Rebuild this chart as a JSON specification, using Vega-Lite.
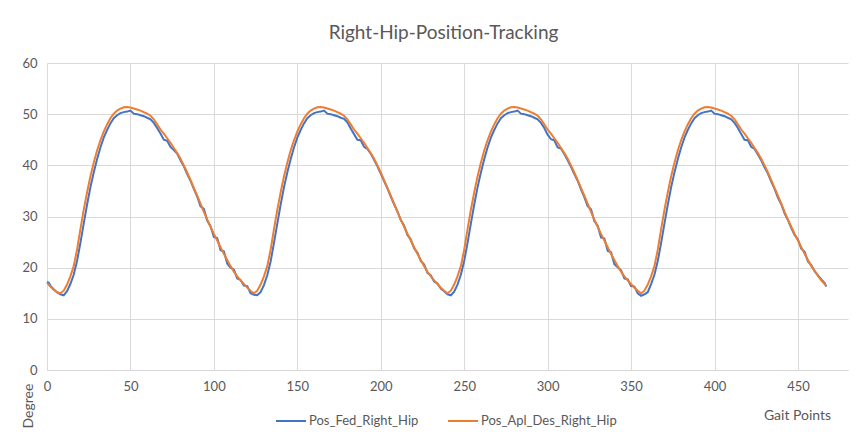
{
"$schema": "https://vega.github.io/schema/vega-lite/v6.json",
"width": 801, "height": 307,
"autosize": {"type": "none"},
"padding": {"left": 47, "top": 63, "right": 17, "bottom": 69},
"background": "white",
"title": {"text": "Right-Hip-Position-Tracking", "fontSize": 19, "font": "Lato", "fontWeight": "normal", "color": "#595959", "anchor": "middle", "frame": "group", "baseline": "alphabetic", "offset": 27, "dx": -4, "dy": 28},
"data": {"values": [
{"x":0,"Pos_Fed_Right_Hip":17.2,"Pos_Apl_Des_Right_Hip":17.0},
{"x":1,"Pos_Fed_Right_Hip":17.1,"Pos_Apl_Des_Right_Hip":16.7},
{"x":2,"Pos_Fed_Right_Hip":16.5,"Pos_Apl_Des_Right_Hip":16.3},
{"x":4,"Pos_Fed_Right_Hip":15.8,"Pos_Apl_Des_Right_Hip":15.7},
{"x":6,"Pos_Fed_Right_Hip":15.2,"Pos_Apl_Des_Right_Hip":15.2},
{"x":8,"Pos_Fed_Right_Hip":14.8,"Pos_Apl_Des_Right_Hip":15.0},
{"x":10,"Pos_Fed_Right_Hip":14.6,"Pos_Apl_Des_Right_Hip":15.5},
{"x":12,"Pos_Fed_Right_Hip":15.4,"Pos_Apl_Des_Right_Hip":16.7},
{"x":14,"Pos_Fed_Right_Hip":16.8,"Pos_Apl_Des_Right_Hip":18.3},
{"x":16,"Pos_Fed_Right_Hip":18.6,"Pos_Apl_Des_Right_Hip":20.3},
{"x":18,"Pos_Fed_Right_Hip":21.3,"Pos_Apl_Des_Right_Hip":23.5},
{"x":20,"Pos_Fed_Right_Hip":24.8,"Pos_Apl_Des_Right_Hip":27.5},
{"x":22,"Pos_Fed_Right_Hip":28.6,"Pos_Apl_Des_Right_Hip":31.3},
{"x":24,"Pos_Fed_Right_Hip":32.3,"Pos_Apl_Des_Right_Hip":34.7},
{"x":26,"Pos_Fed_Right_Hip":35.7,"Pos_Apl_Des_Right_Hip":37.8},
{"x":28,"Pos_Fed_Right_Hip":38.6,"Pos_Apl_Des_Right_Hip":40.5},
{"x":30,"Pos_Fed_Right_Hip":41.2,"Pos_Apl_Des_Right_Hip":42.9},
{"x":32,"Pos_Fed_Right_Hip":43.5,"Pos_Apl_Des_Right_Hip":44.9},
{"x":34,"Pos_Fed_Right_Hip":45.4,"Pos_Apl_Des_Right_Hip":46.6},
{"x":36,"Pos_Fed_Right_Hip":46.9,"Pos_Apl_Des_Right_Hip":48.0},
{"x":38,"Pos_Fed_Right_Hip":48.2,"Pos_Apl_Des_Right_Hip":49.2},
{"x":40,"Pos_Fed_Right_Hip":49.2,"Pos_Apl_Des_Right_Hip":50.1},
{"x":42,"Pos_Fed_Right_Hip":49.8,"Pos_Apl_Des_Right_Hip":50.7},
{"x":44,"Pos_Fed_Right_Hip":50.2,"Pos_Apl_Des_Right_Hip":51.1},
{"x":46,"Pos_Fed_Right_Hip":50.4,"Pos_Apl_Des_Right_Hip":51.35},
{"x":48,"Pos_Fed_Right_Hip":50.5,"Pos_Apl_Des_Right_Hip":51.4},
{"x":50,"Pos_Fed_Right_Hip":50.7,"Pos_Apl_Des_Right_Hip":51.3},
{"x":52,"Pos_Fed_Right_Hip":50.1,"Pos_Apl_Des_Right_Hip":51.1},
{"x":54,"Pos_Fed_Right_Hip":50.0,"Pos_Apl_Des_Right_Hip":50.9},
{"x":56,"Pos_Fed_Right_Hip":49.8,"Pos_Apl_Des_Right_Hip":50.7},
{"x":58,"Pos_Fed_Right_Hip":49.6,"Pos_Apl_Des_Right_Hip":50.4},
{"x":60,"Pos_Fed_Right_Hip":49.3,"Pos_Apl_Des_Right_Hip":50.1},
{"x":62,"Pos_Fed_Right_Hip":49.0,"Pos_Apl_Des_Right_Hip":49.7},
{"x":64,"Pos_Fed_Right_Hip":48.3,"Pos_Apl_Des_Right_Hip":49.0},
{"x":66,"Pos_Fed_Right_Hip":47.3,"Pos_Apl_Des_Right_Hip":48.0},
{"x":68,"Pos_Fed_Right_Hip":46.2,"Pos_Apl_Des_Right_Hip":47.0},
{"x":70,"Pos_Fed_Right_Hip":45.0,"Pos_Apl_Des_Right_Hip":46.2},
{"x":72,"Pos_Fed_Right_Hip":44.8,"Pos_Apl_Des_Right_Hip":45.3},
{"x":74,"Pos_Fed_Right_Hip":43.6,"Pos_Apl_Des_Right_Hip":44.4},
{"x":76,"Pos_Fed_Right_Hip":43.0,"Pos_Apl_Des_Right_Hip":43.4},
{"x":78,"Pos_Fed_Right_Hip":42.3,"Pos_Apl_Des_Right_Hip":42.4},
{"x":80,"Pos_Fed_Right_Hip":41.0,"Pos_Apl_Des_Right_Hip":41.3},
{"x":82,"Pos_Fed_Right_Hip":39.8,"Pos_Apl_Des_Right_Hip":40.0},
{"x":84,"Pos_Fed_Right_Hip":38.3,"Pos_Apl_Des_Right_Hip":38.6},
{"x":86,"Pos_Fed_Right_Hip":37.0,"Pos_Apl_Des_Right_Hip":37.1},
{"x":88,"Pos_Fed_Right_Hip":35.4,"Pos_Apl_Des_Right_Hip":35.6},
{"x":90,"Pos_Fed_Right_Hip":33.9,"Pos_Apl_Des_Right_Hip":34.1},
{"x":92,"Pos_Fed_Right_Hip":32.0,"Pos_Apl_Des_Right_Hip":32.5},
{"x":94,"Pos_Fed_Right_Hip":31.5,"Pos_Apl_Des_Right_Hip":30.9},
{"x":96,"Pos_Fed_Right_Hip":29.2,"Pos_Apl_Des_Right_Hip":29.4},
{"x":98,"Pos_Fed_Right_Hip":28.1,"Pos_Apl_Des_Right_Hip":28.0},
{"x":100,"Pos_Fed_Right_Hip":26.0,"Pos_Apl_Des_Right_Hip":26.6},
{"x":102,"Pos_Fed_Right_Hip":25.8,"Pos_Apl_Des_Right_Hip":25.3},
{"x":104,"Pos_Fed_Right_Hip":23.4,"Pos_Apl_Des_Right_Hip":24.0},
{"x":106,"Pos_Fed_Right_Hip":23.2,"Pos_Apl_Des_Right_Hip":22.7},
{"x":108,"Pos_Fed_Right_Hip":20.8,"Pos_Apl_Des_Right_Hip":21.5},
{"x":110,"Pos_Fed_Right_Hip":20.0,"Pos_Apl_Des_Right_Hip":20.3},
{"x":112,"Pos_Fed_Right_Hip":19.6,"Pos_Apl_Des_Right_Hip":19.2},
{"x":114,"Pos_Fed_Right_Hip":17.9,"Pos_Apl_Des_Right_Hip":18.3},
{"x":116,"Pos_Fed_Right_Hip":17.6,"Pos_Apl_Des_Right_Hip":17.5},
{"x":118,"Pos_Fed_Right_Hip":16.5,"Pos_Apl_Des_Right_Hip":16.8},
{"x":120,"Pos_Fed_Right_Hip":16.4,"Pos_Apl_Des_Right_Hip":16.1},
{"x":122,"Pos_Fed_Right_Hip":15.0,"Pos_Apl_Des_Right_Hip":15.5},
{"x":124,"Pos_Fed_Right_Hip":14.7,"Pos_Apl_Des_Right_Hip":15.0},
{"x":126,"Pos_Fed_Right_Hip":14.6,"Pos_Apl_Des_Right_Hip":15.5},
{"x":128,"Pos_Fed_Right_Hip":15.2,"Pos_Apl_Des_Right_Hip":16.7},
{"x":130,"Pos_Fed_Right_Hip":16.6,"Pos_Apl_Des_Right_Hip":18.3},
{"x":132,"Pos_Fed_Right_Hip":18.5,"Pos_Apl_Des_Right_Hip":20.3},
{"x":134,"Pos_Fed_Right_Hip":21.2,"Pos_Apl_Des_Right_Hip":23.5},
{"x":136,"Pos_Fed_Right_Hip":24.8,"Pos_Apl_Des_Right_Hip":27.5},
{"x":138,"Pos_Fed_Right_Hip":28.6,"Pos_Apl_Des_Right_Hip":31.3},
{"x":140,"Pos_Fed_Right_Hip":32.3,"Pos_Apl_Des_Right_Hip":34.7},
{"x":142,"Pos_Fed_Right_Hip":35.7,"Pos_Apl_Des_Right_Hip":37.8},
{"x":144,"Pos_Fed_Right_Hip":38.6,"Pos_Apl_Des_Right_Hip":40.5},
{"x":146,"Pos_Fed_Right_Hip":41.2,"Pos_Apl_Des_Right_Hip":42.9},
{"x":148,"Pos_Fed_Right_Hip":43.5,"Pos_Apl_Des_Right_Hip":44.9},
{"x":150,"Pos_Fed_Right_Hip":45.4,"Pos_Apl_Des_Right_Hip":46.6},
{"x":152,"Pos_Fed_Right_Hip":46.9,"Pos_Apl_Des_Right_Hip":48.0},
{"x":154,"Pos_Fed_Right_Hip":48.2,"Pos_Apl_Des_Right_Hip":49.2},
{"x":156,"Pos_Fed_Right_Hip":49.2,"Pos_Apl_Des_Right_Hip":50.1},
{"x":158,"Pos_Fed_Right_Hip":49.8,"Pos_Apl_Des_Right_Hip":50.7},
{"x":160,"Pos_Fed_Right_Hip":50.2,"Pos_Apl_Des_Right_Hip":51.1},
{"x":162,"Pos_Fed_Right_Hip":50.4,"Pos_Apl_Des_Right_Hip":51.35},
{"x":164,"Pos_Fed_Right_Hip":50.5,"Pos_Apl_Des_Right_Hip":51.4},
{"x":166,"Pos_Fed_Right_Hip":50.7,"Pos_Apl_Des_Right_Hip":51.3},
{"x":168,"Pos_Fed_Right_Hip":50.1,"Pos_Apl_Des_Right_Hip":51.1},
{"x":170,"Pos_Fed_Right_Hip":50.0,"Pos_Apl_Des_Right_Hip":50.9},
{"x":172,"Pos_Fed_Right_Hip":49.8,"Pos_Apl_Des_Right_Hip":50.7},
{"x":174,"Pos_Fed_Right_Hip":49.6,"Pos_Apl_Des_Right_Hip":50.4},
{"x":176,"Pos_Fed_Right_Hip":49.3,"Pos_Apl_Des_Right_Hip":50.1},
{"x":178,"Pos_Fed_Right_Hip":49.1,"Pos_Apl_Des_Right_Hip":49.7},
{"x":180,"Pos_Fed_Right_Hip":48.4,"Pos_Apl_Des_Right_Hip":49.0},
{"x":182,"Pos_Fed_Right_Hip":47.2,"Pos_Apl_Des_Right_Hip":48.0},
{"x":184,"Pos_Fed_Right_Hip":46.1,"Pos_Apl_Des_Right_Hip":47.0},
{"x":186,"Pos_Fed_Right_Hip":45.0,"Pos_Apl_Des_Right_Hip":46.2},
{"x":188,"Pos_Fed_Right_Hip":44.9,"Pos_Apl_Des_Right_Hip":45.3},
{"x":190,"Pos_Fed_Right_Hip":43.6,"Pos_Apl_Des_Right_Hip":44.4},
{"x":192,"Pos_Fed_Right_Hip":43.2,"Pos_Apl_Des_Right_Hip":43.4},
{"x":194,"Pos_Fed_Right_Hip":42.3,"Pos_Apl_Des_Right_Hip":42.4},
{"x":196,"Pos_Fed_Right_Hip":41.1,"Pos_Apl_Des_Right_Hip":41.3},
{"x":198,"Pos_Fed_Right_Hip":39.8,"Pos_Apl_Des_Right_Hip":40.0},
{"x":200,"Pos_Fed_Right_Hip":38.4,"Pos_Apl_Des_Right_Hip":38.6},
{"x":202,"Pos_Fed_Right_Hip":36.9,"Pos_Apl_Des_Right_Hip":37.1},
{"x":204,"Pos_Fed_Right_Hip":35.5,"Pos_Apl_Des_Right_Hip":35.6},
{"x":206,"Pos_Fed_Right_Hip":33.9,"Pos_Apl_Des_Right_Hip":34.1},
{"x":208,"Pos_Fed_Right_Hip":32.4,"Pos_Apl_Des_Right_Hip":32.5},
{"x":210,"Pos_Fed_Right_Hip":31.0,"Pos_Apl_Des_Right_Hip":30.9},
{"x":212,"Pos_Fed_Right_Hip":29.3,"Pos_Apl_Des_Right_Hip":29.4},
{"x":214,"Pos_Fed_Right_Hip":28.2,"Pos_Apl_Des_Right_Hip":28.0},
{"x":216,"Pos_Fed_Right_Hip":26.4,"Pos_Apl_Des_Right_Hip":26.6},
{"x":218,"Pos_Fed_Right_Hip":25.5,"Pos_Apl_Des_Right_Hip":25.3},
{"x":220,"Pos_Fed_Right_Hip":23.8,"Pos_Apl_Des_Right_Hip":24.0},
{"x":222,"Pos_Fed_Right_Hip":22.9,"Pos_Apl_Des_Right_Hip":22.7},
{"x":224,"Pos_Fed_Right_Hip":21.3,"Pos_Apl_Des_Right_Hip":21.5},
{"x":226,"Pos_Fed_Right_Hip":20.6,"Pos_Apl_Des_Right_Hip":20.3},
{"x":228,"Pos_Fed_Right_Hip":19.0,"Pos_Apl_Des_Right_Hip":19.2},
{"x":230,"Pos_Fed_Right_Hip":18.5,"Pos_Apl_Des_Right_Hip":18.3},
{"x":232,"Pos_Fed_Right_Hip":17.3,"Pos_Apl_Des_Right_Hip":17.5},
{"x":234,"Pos_Fed_Right_Hip":16.9,"Pos_Apl_Des_Right_Hip":16.8},
{"x":236,"Pos_Fed_Right_Hip":15.9,"Pos_Apl_Des_Right_Hip":16.1},
{"x":238,"Pos_Fed_Right_Hip":15.4,"Pos_Apl_Des_Right_Hip":15.5},
{"x":240,"Pos_Fed_Right_Hip":14.8,"Pos_Apl_Des_Right_Hip":15.0},
{"x":242,"Pos_Fed_Right_Hip":14.6,"Pos_Apl_Des_Right_Hip":15.5},
{"x":244,"Pos_Fed_Right_Hip":15.3,"Pos_Apl_Des_Right_Hip":16.7},
{"x":246,"Pos_Fed_Right_Hip":16.7,"Pos_Apl_Des_Right_Hip":18.3},
{"x":248,"Pos_Fed_Right_Hip":18.6,"Pos_Apl_Des_Right_Hip":20.3},
{"x":250,"Pos_Fed_Right_Hip":21.3,"Pos_Apl_Des_Right_Hip":23.5},
{"x":252,"Pos_Fed_Right_Hip":24.8,"Pos_Apl_Des_Right_Hip":27.5},
{"x":254,"Pos_Fed_Right_Hip":28.6,"Pos_Apl_Des_Right_Hip":31.3},
{"x":256,"Pos_Fed_Right_Hip":32.3,"Pos_Apl_Des_Right_Hip":34.7},
{"x":258,"Pos_Fed_Right_Hip":35.7,"Pos_Apl_Des_Right_Hip":37.8},
{"x":260,"Pos_Fed_Right_Hip":38.6,"Pos_Apl_Des_Right_Hip":40.5},
{"x":262,"Pos_Fed_Right_Hip":41.2,"Pos_Apl_Des_Right_Hip":42.9},
{"x":264,"Pos_Fed_Right_Hip":43.5,"Pos_Apl_Des_Right_Hip":44.9},
{"x":266,"Pos_Fed_Right_Hip":45.4,"Pos_Apl_Des_Right_Hip":46.6},
{"x":268,"Pos_Fed_Right_Hip":46.9,"Pos_Apl_Des_Right_Hip":48.0},
{"x":270,"Pos_Fed_Right_Hip":48.2,"Pos_Apl_Des_Right_Hip":49.2},
{"x":272,"Pos_Fed_Right_Hip":49.2,"Pos_Apl_Des_Right_Hip":50.1},
{"x":274,"Pos_Fed_Right_Hip":49.8,"Pos_Apl_Des_Right_Hip":50.7},
{"x":276,"Pos_Fed_Right_Hip":50.2,"Pos_Apl_Des_Right_Hip":51.1},
{"x":278,"Pos_Fed_Right_Hip":50.4,"Pos_Apl_Des_Right_Hip":51.35},
{"x":280,"Pos_Fed_Right_Hip":50.5,"Pos_Apl_Des_Right_Hip":51.4},
{"x":282,"Pos_Fed_Right_Hip":50.7,"Pos_Apl_Des_Right_Hip":51.3},
{"x":284,"Pos_Fed_Right_Hip":50.1,"Pos_Apl_Des_Right_Hip":51.1},
{"x":286,"Pos_Fed_Right_Hip":50.0,"Pos_Apl_Des_Right_Hip":50.9},
{"x":288,"Pos_Fed_Right_Hip":49.8,"Pos_Apl_Des_Right_Hip":50.7},
{"x":290,"Pos_Fed_Right_Hip":49.6,"Pos_Apl_Des_Right_Hip":50.4},
{"x":292,"Pos_Fed_Right_Hip":49.3,"Pos_Apl_Des_Right_Hip":50.1},
{"x":294,"Pos_Fed_Right_Hip":49.0,"Pos_Apl_Des_Right_Hip":49.7},
{"x":296,"Pos_Fed_Right_Hip":48.3,"Pos_Apl_Des_Right_Hip":49.0},
{"x":298,"Pos_Fed_Right_Hip":47.3,"Pos_Apl_Des_Right_Hip":48.0},
{"x":300,"Pos_Fed_Right_Hip":46.0,"Pos_Apl_Des_Right_Hip":47.0},
{"x":302,"Pos_Fed_Right_Hip":45.1,"Pos_Apl_Des_Right_Hip":46.2},
{"x":304,"Pos_Fed_Right_Hip":44.9,"Pos_Apl_Des_Right_Hip":45.3},
{"x":306,"Pos_Fed_Right_Hip":43.5,"Pos_Apl_Des_Right_Hip":44.4},
{"x":308,"Pos_Fed_Right_Hip":43.3,"Pos_Apl_Des_Right_Hip":43.4},
{"x":310,"Pos_Fed_Right_Hip":42.2,"Pos_Apl_Des_Right_Hip":42.4},
{"x":312,"Pos_Fed_Right_Hip":41.0,"Pos_Apl_Des_Right_Hip":41.3},
{"x":314,"Pos_Fed_Right_Hip":39.7,"Pos_Apl_Des_Right_Hip":40.0},
{"x":316,"Pos_Fed_Right_Hip":38.3,"Pos_Apl_Des_Right_Hip":38.6},
{"x":318,"Pos_Fed_Right_Hip":37.0,"Pos_Apl_Des_Right_Hip":37.1},
{"x":320,"Pos_Fed_Right_Hip":35.3,"Pos_Apl_Des_Right_Hip":35.6},
{"x":322,"Pos_Fed_Right_Hip":33.8,"Pos_Apl_Des_Right_Hip":34.1},
{"x":324,"Pos_Fed_Right_Hip":32.0,"Pos_Apl_Des_Right_Hip":32.5},
{"x":326,"Pos_Fed_Right_Hip":31.4,"Pos_Apl_Des_Right_Hip":30.9},
{"x":328,"Pos_Fed_Right_Hip":29.1,"Pos_Apl_Des_Right_Hip":29.4},
{"x":330,"Pos_Fed_Right_Hip":28.2,"Pos_Apl_Des_Right_Hip":28.0},
{"x":332,"Pos_Fed_Right_Hip":25.9,"Pos_Apl_Des_Right_Hip":26.6},
{"x":334,"Pos_Fed_Right_Hip":25.7,"Pos_Apl_Des_Right_Hip":25.3},
{"x":336,"Pos_Fed_Right_Hip":23.3,"Pos_Apl_Des_Right_Hip":24.0},
{"x":338,"Pos_Fed_Right_Hip":23.0,"Pos_Apl_Des_Right_Hip":22.7},
{"x":340,"Pos_Fed_Right_Hip":20.7,"Pos_Apl_Des_Right_Hip":21.5},
{"x":342,"Pos_Fed_Right_Hip":20.1,"Pos_Apl_Des_Right_Hip":20.3},
{"x":344,"Pos_Fed_Right_Hip":19.5,"Pos_Apl_Des_Right_Hip":19.2},
{"x":346,"Pos_Fed_Right_Hip":17.9,"Pos_Apl_Des_Right_Hip":18.3},
{"x":348,"Pos_Fed_Right_Hip":17.7,"Pos_Apl_Des_Right_Hip":17.5},
{"x":350,"Pos_Fed_Right_Hip":16.4,"Pos_Apl_Des_Right_Hip":16.8},
{"x":352,"Pos_Fed_Right_Hip":16.3,"Pos_Apl_Des_Right_Hip":16.1},
{"x":354,"Pos_Fed_Right_Hip":15.0,"Pos_Apl_Des_Right_Hip":15.5},
{"x":356,"Pos_Fed_Right_Hip":14.5,"Pos_Apl_Des_Right_Hip":15.0},
{"x":358,"Pos_Fed_Right_Hip":14.8,"Pos_Apl_Des_Right_Hip":15.5},
{"x":360,"Pos_Fed_Right_Hip":15.2,"Pos_Apl_Des_Right_Hip":16.7},
{"x":362,"Pos_Fed_Right_Hip":16.8,"Pos_Apl_Des_Right_Hip":18.3},
{"x":364,"Pos_Fed_Right_Hip":18.6,"Pos_Apl_Des_Right_Hip":20.3},
{"x":366,"Pos_Fed_Right_Hip":21.3,"Pos_Apl_Des_Right_Hip":23.5},
{"x":368,"Pos_Fed_Right_Hip":24.8,"Pos_Apl_Des_Right_Hip":27.5},
{"x":370,"Pos_Fed_Right_Hip":28.6,"Pos_Apl_Des_Right_Hip":31.3},
{"x":372,"Pos_Fed_Right_Hip":32.3,"Pos_Apl_Des_Right_Hip":34.7},
{"x":374,"Pos_Fed_Right_Hip":35.7,"Pos_Apl_Des_Right_Hip":37.8},
{"x":376,"Pos_Fed_Right_Hip":38.6,"Pos_Apl_Des_Right_Hip":40.5},
{"x":378,"Pos_Fed_Right_Hip":41.2,"Pos_Apl_Des_Right_Hip":42.9},
{"x":380,"Pos_Fed_Right_Hip":43.5,"Pos_Apl_Des_Right_Hip":44.9},
{"x":382,"Pos_Fed_Right_Hip":45.4,"Pos_Apl_Des_Right_Hip":46.6},
{"x":384,"Pos_Fed_Right_Hip":46.9,"Pos_Apl_Des_Right_Hip":48.0},
{"x":386,"Pos_Fed_Right_Hip":48.2,"Pos_Apl_Des_Right_Hip":49.2},
{"x":388,"Pos_Fed_Right_Hip":49.2,"Pos_Apl_Des_Right_Hip":50.1},
{"x":390,"Pos_Fed_Right_Hip":49.8,"Pos_Apl_Des_Right_Hip":50.7},
{"x":392,"Pos_Fed_Right_Hip":50.2,"Pos_Apl_Des_Right_Hip":51.1},
{"x":394,"Pos_Fed_Right_Hip":50.4,"Pos_Apl_Des_Right_Hip":51.35},
{"x":396,"Pos_Fed_Right_Hip":50.5,"Pos_Apl_Des_Right_Hip":51.4},
{"x":398,"Pos_Fed_Right_Hip":50.7,"Pos_Apl_Des_Right_Hip":51.3},
{"x":400,"Pos_Fed_Right_Hip":50.1,"Pos_Apl_Des_Right_Hip":51.1},
{"x":402,"Pos_Fed_Right_Hip":50.0,"Pos_Apl_Des_Right_Hip":50.9},
{"x":404,"Pos_Fed_Right_Hip":49.8,"Pos_Apl_Des_Right_Hip":50.7},
{"x":406,"Pos_Fed_Right_Hip":49.6,"Pos_Apl_Des_Right_Hip":50.4},
{"x":408,"Pos_Fed_Right_Hip":49.3,"Pos_Apl_Des_Right_Hip":50.1},
{"x":410,"Pos_Fed_Right_Hip":49.0,"Pos_Apl_Des_Right_Hip":49.7},
{"x":412,"Pos_Fed_Right_Hip":48.3,"Pos_Apl_Des_Right_Hip":49.0},
{"x":414,"Pos_Fed_Right_Hip":47.3,"Pos_Apl_Des_Right_Hip":48.0},
{"x":416,"Pos_Fed_Right_Hip":46.1,"Pos_Apl_Des_Right_Hip":47.0},
{"x":418,"Pos_Fed_Right_Hip":45.0,"Pos_Apl_Des_Right_Hip":46.2},
{"x":420,"Pos_Fed_Right_Hip":44.9,"Pos_Apl_Des_Right_Hip":45.3},
{"x":422,"Pos_Fed_Right_Hip":43.6,"Pos_Apl_Des_Right_Hip":44.4},
{"x":424,"Pos_Fed_Right_Hip":43.2,"Pos_Apl_Des_Right_Hip":43.4},
{"x":426,"Pos_Fed_Right_Hip":42.1,"Pos_Apl_Des_Right_Hip":42.4},
{"x":428,"Pos_Fed_Right_Hip":41.0,"Pos_Apl_Des_Right_Hip":41.3},
{"x":430,"Pos_Fed_Right_Hip":39.6,"Pos_Apl_Des_Right_Hip":40.0},
{"x":432,"Pos_Fed_Right_Hip":38.4,"Pos_Apl_Des_Right_Hip":38.6},
{"x":434,"Pos_Fed_Right_Hip":36.8,"Pos_Apl_Des_Right_Hip":37.1},
{"x":436,"Pos_Fed_Right_Hip":35.4,"Pos_Apl_Des_Right_Hip":35.6},
{"x":438,"Pos_Fed_Right_Hip":33.7,"Pos_Apl_Des_Right_Hip":34.1},
{"x":440,"Pos_Fed_Right_Hip":32.4,"Pos_Apl_Des_Right_Hip":32.5},
{"x":442,"Pos_Fed_Right_Hip":30.6,"Pos_Apl_Des_Right_Hip":30.9},
{"x":444,"Pos_Fed_Right_Hip":29.3,"Pos_Apl_Des_Right_Hip":29.4},
{"x":446,"Pos_Fed_Right_Hip":27.8,"Pos_Apl_Des_Right_Hip":28.0},
{"x":448,"Pos_Fed_Right_Hip":26.4,"Pos_Apl_Des_Right_Hip":26.6},
{"x":450,"Pos_Fed_Right_Hip":25.5,"Pos_Apl_Des_Right_Hip":25.3},
{"x":452,"Pos_Fed_Right_Hip":23.7,"Pos_Apl_Des_Right_Hip":24.0},
{"x":454,"Pos_Fed_Right_Hip":23.1,"Pos_Apl_Des_Right_Hip":22.7},
{"x":456,"Pos_Fed_Right_Hip":21.2,"Pos_Apl_Des_Right_Hip":21.5},
{"x":458,"Pos_Fed_Right_Hip":20.5,"Pos_Apl_Des_Right_Hip":20.3},
{"x":460,"Pos_Fed_Right_Hip":19.3,"Pos_Apl_Des_Right_Hip":19.4},
{"x":462,"Pos_Fed_Right_Hip":18.5,"Pos_Apl_Des_Right_Hip":18.4},
{"x":464,"Pos_Fed_Right_Hip":17.7,"Pos_Apl_Des_Right_Hip":17.5},
{"x":466,"Pos_Fed_Right_Hip":17.0,"Pos_Apl_Des_Right_Hip":16.8},
{"x":467,"Pos_Fed_Right_Hip":16.3,"Pos_Apl_Des_Right_Hip":16.4}
]},
"transform": [{"fold": ["Pos_Fed_Right_Hip", "Pos_Apl_Des_Right_Hip"], "as": ["series", "value"]}],
"encoding": {
  "x": {"field": "x", "type": "quantitative", "scale": {"domain": [0, 480], "nice": false, "zero": false},
        "axis": {"title": "Gait Points", "values": [0,50,100,150,200,250,300,350,400,450], "grid": true, "gridColor": "#d9d9d9", "domain": true, "domainColor": "#d9d9d9", "ticks": false, "labelPadding": 10, "labelFontSize": 13, "labelFont": "Lato", "labelColor": "#595959", "labelFlush": false,
                 "titleX": 750, "titleY": 45, "titleAlign": "center", "titleBaseline": "middle", "titleFontSize": 14, "titleFont": "Lato", "titleFontWeight": "normal", "titleColor": "#595959"}},
  "y": {"field": "value", "type": "quantitative", "scale": {"domain": [0, 60], "nice": false},
        "axis": {"title": "Degree", "values": [0,10,20,30,40,50,60], "grid": true, "gridColor": "#d9d9d9", "domain": false, "ticks": false, "labelPadding": 10, "labelFontSize": 13, "labelFont": "Lato", "labelColor": "#595959",
                 "titleAngle": 270, "titleX": -19, "titleY": 365, "titleAlign": "left", "titleBaseline": "middle", "titleFontSize": 14, "titleFont": "Lato", "titleFontWeight": "normal", "titleColor": "#595959"}},
  "color": {"field": "series", "type": "nominal",
            "scale": {"domain": ["Pos_Fed_Right_Hip", "Pos_Apl_Des_Right_Hip"], "range": ["#4472C4", "#ED7D31"]},
            "legend": {"orient": "none", "legendX": 228, "legendY": 342, "direction": "horizontal", "title": null, "symbolType": "stroke", "symbolStrokeWidth": 2, "symbolSize": 900, "labelFontSize": 13, "labelFont": "Lato", "labelColor": "#595959", "columnPadding": 25, "labelOffset": 2}}
},
"layer": [
  {"transform": [{"filter": "datum.series == 'Pos_Fed_Right_Hip'"}], "mark": {"type": "line", "strokeWidth": 2}},
  {"transform": [{"filter": "datum.series == 'Pos_Apl_Des_Right_Hip'"}], "mark": {"type": "line", "strokeWidth": 2}}
],
"config": {"view": {"stroke": null}}
}
